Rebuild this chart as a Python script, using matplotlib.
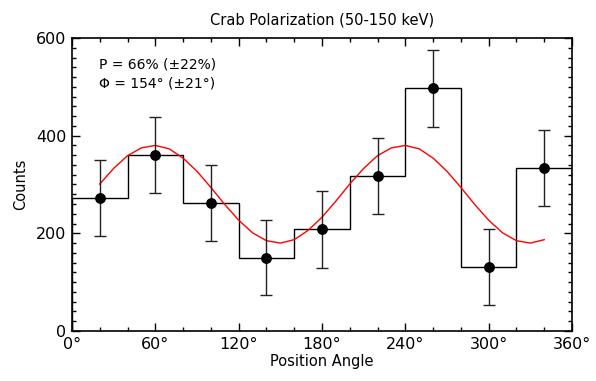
import numpy as np
import matplotlib.pyplot as plt
from matplotlib.ticker import MultipleLocator, FuncFormatter

# bin centres (deg) and counts
angles = [20, 60, 100, 140, 180, 220, 260, 300, 340]
counts = [272, 360, 262, 150, 208, 318, 497, 131, 333]
errors = [78, 78, 78, 77, 78, 78, 79, 77, 78]
bin_edges = [0, 40, 80, 120, 160, 200, 240, 280, 320, 360]

# fitted modulation curve, every 10 deg
fit_x = [20, 30, 40, 50, 60, 70, 80, 90, 100, 110, 120, 130, 140, 150, 160, 170,
         180, 190, 200, 210, 220, 230, 240, 250, 260, 270, 280, 290, 300, 310,
         320, 330, 340]
fit_y = [301, 333, 359, 375, 380, 373, 354, 327, 294, 259, 227, 201, 185, 180, 187, 206,
         233, 266, 301, 333, 359, 375, 380, 373, 354, 327, 294, 259, 227, 201,
         185, 180, 187]

fig = plt.figure(figsize=(5.96, 3.81), dpi=100)
ax = fig.add_axes([0.1208, 0.1312, 0.8389, 0.7691])

ax.stairs(counts, bin_edges, color='black', linewidth=1.0)
ax.plot(fit_x, fit_y, color='red', linewidth=1.0, solid_joinstyle='round')
ax.errorbar(angles, counts, yerr=errors, fmt='o', color='black', ecolor='#222222',
            markersize=6.8, elinewidth=1.0, capsize=4, capthick=1.0)

ax.set_xlim(0, 360)
ax.set_ylim(0, 600)
ax.xaxis.set_major_locator(MultipleLocator(60))
ax.xaxis.set_minor_locator(MultipleLocator(20))
ax.yaxis.set_major_locator(MultipleLocator(200))
ax.yaxis.set_minor_locator(MultipleLocator(20))
ax.xaxis.set_major_formatter(FuncFormatter(lambda v, p: f'{int(v)}°'))
ax.tick_params(which='both', direction='in', top=True, right=True, labelsize=11.5,
               width=1.0, pad=4)
ax.tick_params(which='major', length=6)
ax.tick_params(which='minor', length=3)
for s in ax.spines.values():
    s.set_linewidth(1.2)

ax.set_xlabel('Position Angle', fontsize=10.5, labelpad=2)
ax.set_ylabel('Counts', fontsize=10.5, labelpad=6)
ax.set_title('Crab Polarization (50-150 keV)', fontsize=10.5, pad=10)

ax.text(0.054, 0.908, 'P = 66% (±22%)', transform=ax.transAxes, fontsize=10,
        va='center', ha='left')
ax.text(0.054, 0.845, 'Φ = 154° (±21°)', transform=ax.transAxes, fontsize=10,
        va='center', ha='left')

plt.savefig('out.png', dpi=100)
